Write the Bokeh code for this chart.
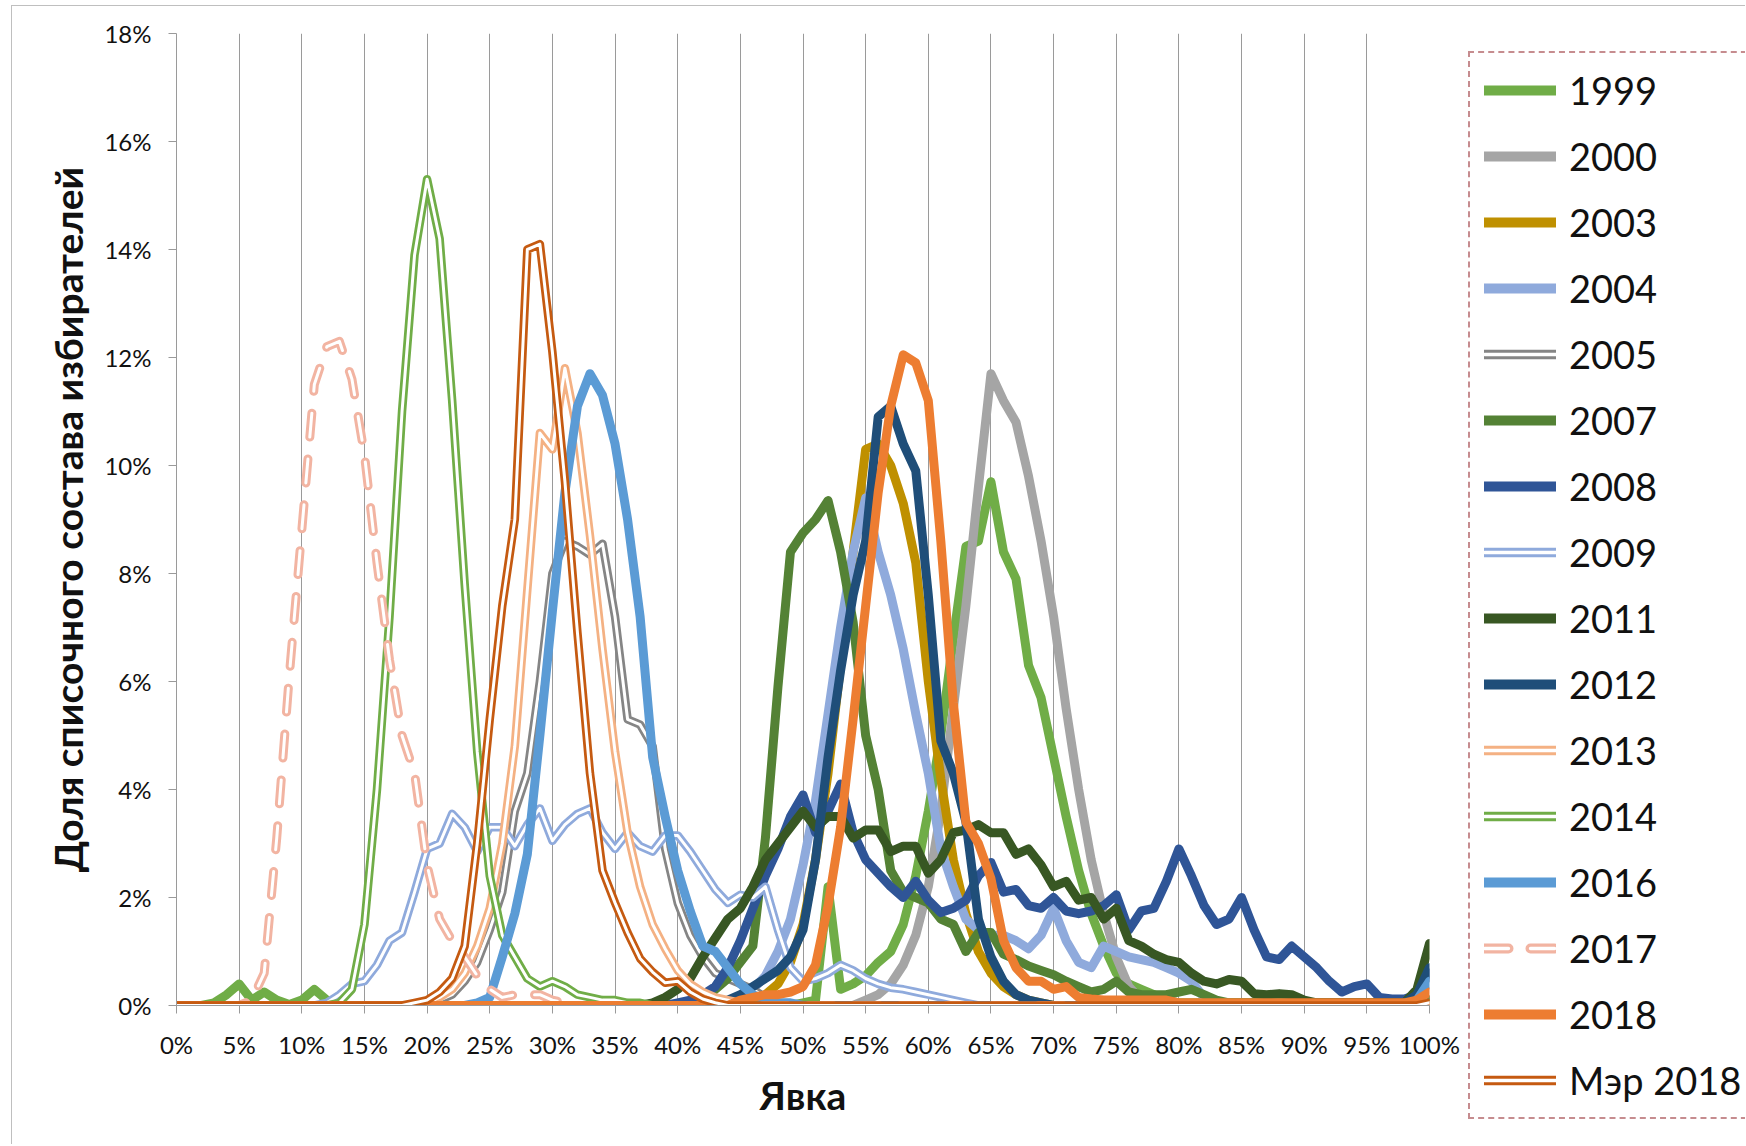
from bokeh.plotting import figure
from bokeh.layouts import row
from bokeh.models import Range1d, FixedTicker, PrintfTickFormatter, Legend, LegendItem
from bokeh.embed import file_html
from bokeh.resources import INLINE

# x: turnout, %  (0..100, step 1)
turnout = list(range(0, 101))
x_ticks = list(range(0, 101, 5))
y_ticks = list(range(0, 19, 2))

y_1999 = [0, 0, 0, 0.05, 0.2, 0.4, 0.1, 0.25, 0.1, 0.02,
          0.1, 0.3, 0.1, 0, 0, 0, 0, 0, 0, 0,
          0, 0, 0, 0, 0, 0, 0, 0, 0, 0,
          0, 0, 0, 0, 0, 0, 0, 0, 0, 0,
          0, 0, 0, 0, 0, 0, 0, 0, 0, 0,
          0.05, 0.1, 2.2, 0.3, 0.4, 0.55, 0.8, 1.0, 1.5, 2.4,
          3.6, 5.0, 6.8, 8.5, 8.6, 9.7, 8.4, 7.9, 6.3, 5.7,
          4.6, 3.5, 2.5, 1.7, 1.1, 0.6, 0.4, 0.3, 0.2, 0.1,
          0.05, 0.05, 0.05, 0.05, 0.05, 0.05, 0.05, 0.05, 0.05, 0.05,
          0.05, 0.05, 0.05, 0.05, 0.05, 0.05, 0.05, 0.05, 0.05, 0.05,
          0.1]
y_2000 = [0, 0, 0, 0, 0, 0, 0, 0, 0, 0,
          0, 0, 0, 0, 0, 0, 0, 0, 0, 0,
          0, 0, 0, 0, 0, 0, 0, 0, 0, 0,
          0, 0, 0, 0, 0, 0, 0, 0, 0, 0,
          0, 0, 0, 0, 0, 0, 0, 0, 0, 0,
          0, 0, 0, 0, 0, 0.1, 0.2, 0.4, 0.75, 1.3,
          2.2, 3.6, 5.5, 7.4, 9.6, 11.7, 11.2, 10.8, 9.8, 8.6,
          7.2, 5.5, 4.0, 2.7, 1.7, 0.9, 0.35, 0.1, 0, 0,
          0, 0, 0, 0, 0, 0, 0, 0, 0, 0,
          0, 0, 0, 0, 0, 0, 0, 0, 0, 0,
          0]
y_2003 = [0, 0, 0, 0, 0, 0, 0, 0, 0, 0,
          0, 0, 0, 0, 0, 0, 0, 0, 0, 0,
          0, 0, 0, 0, 0, 0, 0, 0, 0, 0,
          0, 0, 0, 0, 0, 0, 0, 0, 0, 0,
          0, 0, 0, 0, 0, 0.05, 0.1, 0.2, 0.4, 0.8,
          1.5, 2.7, 4.3, 6.3, 8.4, 10.3, 10.4, 10.0, 9.3, 8.2,
          6.0, 4.2, 2.7, 1.7, 1.0, 0.6, 0.35, 0.2, 0.1, 0.05,
          0, 0, 0, 0, 0, 0, 0, 0, 0, 0,
          0, 0, 0, 0, 0, 0, 0, 0, 0, 0,
          0, 0, 0, 0, 0, 0, 0, 0, 0, 0,
          0.05]
y_2004 = [0, 0, 0, 0, 0, 0, 0, 0, 0, 0,
          0, 0, 0, 0, 0, 0, 0, 0, 0, 0,
          0, 0, 0, 0, 0, 0, 0, 0, 0, 0,
          0, 0, 0, 0, 0, 0, 0, 0, 0, 0,
          0, 0, 0, 0, 0, 0.1, 0.3, 0.55, 1.0, 1.6,
          2.6, 3.8, 5.4, 7.0, 8.4, 9.4, 8.4, 7.6, 6.6, 5.4,
          4.3, 2.9, 2.2, 1.6, 1.4, 1.3, 1.3, 1.2, 1.05, 1.3,
          1.8, 1.2, 0.8, 0.7, 1.1, 1.0, 0.9, 0.85, 0.8, 0.7,
          0.6, 0.45, 0.15, 0.05, 0, 0, 0, 0, 0, 0,
          0, 0, 0, 0, 0, 0, 0, 0, 0, 0,
          0.1]
y_2005 = [0, 0, 0, 0, 0, 0, 0, 0, 0, 0,
          0, 0, 0, 0, 0, 0, 0, 0, 0, 0,
          0.05, 0.1, 0.2, 0.45, 0.8, 1.4, 2.1, 3.6, 4.3, 6.0,
          8.0, 8.6, 8.5, 8.35, 8.55, 7.2, 5.3, 5.2, 4.8, 2.9,
          1.9, 1.3, 0.9, 0.6, 0.5, 0.4, 0.3, 0.15, 0.05, 0,
          0, 0, 0, 0, 0, 0, 0, 0, 0, 0,
          0, 0, 0, 0, 0, 0, 0, 0, 0, 0,
          0, 0, 0, 0, 0, 0, 0, 0, 0, 0,
          0, 0, 0, 0, 0, 0, 0, 0, 0, 0,
          0, 0, 0, 0, 0, 0, 0, 0, 0, 0,
          0.05]
y_2007 = [0, 0, 0, 0, 0, 0, 0, 0, 0, 0,
          0, 0, 0, 0, 0, 0, 0, 0, 0, 0,
          0, 0, 0, 0, 0, 0, 0, 0, 0, 0,
          0, 0, 0, 0, 0, 0, 0, 0, 0, 0,
          0, 0, 0.05, 0.3, 0.5, 0.8, 1.1, 3.1, 5.9, 8.4,
          8.75, 9.0, 9.35, 8.4, 7.1, 5.0, 4.0, 2.5, 2.1, 2.0,
          1.9, 1.6, 1.5, 1.0, 1.35, 1.35, 0.95, 0.85, 0.73, 0.65,
          0.57, 0.45, 0.35, 0.25, 0.3, 0.45, 0.25, 0.2, 0.2, 0.2,
          0.25, 0.3, 0.2, 0.1, 0.05, 0.05, 0.05, 0.05, 0.05, 0.05,
          0.05, 0.05, 0.05, 0.05, 0.05, 0.05, 0.05, 0.05, 0.05, 0.05,
          0.1]
y_2008 = [0, 0, 0, 0, 0, 0, 0, 0, 0, 0,
          0, 0, 0, 0, 0, 0, 0, 0, 0, 0,
          0, 0, 0, 0, 0, 0, 0, 0, 0, 0,
          0, 0, 0, 0, 0, 0, 0, 0, 0, 0,
          0.05, 0.1, 0.2, 0.35, 0.7, 1.2, 1.8, 2.4, 2.9, 3.5,
          3.9, 3.2, 3.6, 4.1, 3.2, 2.7, 2.45, 2.2, 2.0, 2.3,
          1.95, 1.72, 1.8, 1.95, 2.4, 2.65, 2.1, 2.15, 1.85, 1.8,
          2.0, 1.75, 1.7, 1.75, 1.85, 2.05, 1.4, 1.75, 1.8, 2.3,
          2.9, 2.4, 1.85, 1.5, 1.6, 2.0, 1.4, 0.9, 0.85, 1.1,
          0.9, 0.7, 0.45, 0.25, 0.35, 0.4, 0.15, 0.12, 0.12, 0.2,
          0.6]
y_2009 = [0, 0, 0, 0, 0, 0, 0, 0, 0, 0,
          0, 0, 0.05, 0.2, 0.4, 0.45, 0.75, 1.2, 1.35, 2.1,
          2.9, 3.0, 3.55, 3.3, 2.85, 3.3, 3.3, 2.95, 3.35, 3.65,
          3.05, 3.35, 3.55, 3.65, 3.2, 2.9, 3.2, 2.95, 2.85, 3.15,
          3.15, 2.85, 2.5, 2.15, 1.9, 2.05, 2.0, 2.2, 1.4, 0.7,
          0.45, 0.5, 0.6, 0.75, 0.65, 0.5, 0.4, 0.33, 0.3, 0.25,
          0.2, 0.15, 0.1, 0.05, 0, 0, 0, 0, 0, 0,
          0, 0, 0, 0, 0, 0, 0, 0, 0, 0,
          0, 0, 0, 0, 0, 0, 0, 0, 0, 0,
          0, 0, 0, 0, 0, 0, 0, 0, 0, 0,
          0]
y_2011 = [0, 0, 0, 0, 0, 0, 0, 0, 0, 0,
          0, 0, 0, 0, 0, 0, 0, 0, 0, 0,
          0, 0, 0, 0, 0, 0, 0, 0, 0, 0,
          0, 0, 0, 0, 0, 0, 0, 0, 0.05, 0.15,
          0.3, 0.5, 0.9, 1.25, 1.6, 1.8, 2.2, 2.7, 3.0, 3.3,
          3.6, 3.3, 3.5, 3.5, 3.1, 3.25, 3.25, 2.85, 2.95, 2.95,
          2.45, 2.7, 3.2, 3.25, 3.35, 3.2, 3.2, 2.8, 2.9, 2.6,
          2.2, 2.3, 1.95, 2.0, 1.6, 1.8, 1.2, 1.1, 0.95, 0.85,
          0.8, 0.6, 0.45, 0.4, 0.48, 0.45, 0.22, 0.2, 0.22, 0.2,
          0.1, 0.05, 0.05, 0.05, 0.05, 0.05, 0.05, 0.05, 0.05, 0.3,
          1.15]
y_2012 = [0, 0, 0, 0, 0, 0, 0, 0, 0, 0,
          0, 0, 0, 0, 0, 0, 0, 0, 0, 0,
          0, 0, 0, 0, 0, 0, 0, 0, 0, 0,
          0, 0, 0, 0, 0, 0, 0, 0, 0, 0,
          0, 0, 0, 0.05, 0.1, 0.2, 0.35, 0.5, 0.65, 0.9,
          1.4, 2.7, 4.6, 6.2, 7.6, 8.6, 10.9, 11.1, 10.4, 9.9,
          7.6, 4.9, 4.3, 3.4, 1.6, 0.9, 0.45, 0.2, 0.1, 0.05,
          0, 0, 0, 0, 0, 0, 0, 0, 0, 0,
          0, 0, 0, 0, 0, 0, 0, 0, 0, 0,
          0, 0, 0, 0, 0, 0, 0, 0, 0.05, 0.2,
          0.7]
y_2013 = [0, 0, 0, 0, 0, 0, 0, 0, 0, 0,
          0, 0, 0, 0, 0, 0, 0, 0, 0, 0,
          0.05, 0.15, 0.3, 0.6, 1.1, 1.8, 3.0, 4.8, 7.7, 10.6,
          10.3, 11.8, 10.6, 8.7, 6.6, 4.7, 3.2, 2.2, 1.5, 1.05,
          0.65, 0.4, 0.25, 0.15, 0.1, 0.05, 0, 0, 0, 0,
          0, 0, 0, 0, 0, 0, 0, 0, 0, 0,
          0, 0, 0, 0, 0, 0, 0, 0, 0, 0,
          0, 0, 0, 0, 0, 0, 0, 0, 0, 0,
          0, 0, 0, 0, 0, 0, 0, 0, 0, 0,
          0, 0, 0, 0, 0, 0, 0, 0, 0, 0,
          0.05]
y_2014 = [0, 0, 0, 0, 0, 0, 0, 0, 0, 0,
          0, 0, 0, 0.05, 0.3, 1.5, 4.0, 7.2, 11.0, 13.9,
          15.3, 14.2, 11.2, 7.8, 4.7, 2.4, 1.3, 0.9, 0.5, 0.35,
          0.45, 0.35, 0.2, 0.15, 0.1, 0.1, 0.05, 0.05, 0, 0,
          0, 0, 0, 0, 0, 0, 0, 0, 0, 0,
          0, 0, 0, 0, 0, 0, 0, 0, 0, 0,
          0, 0, 0, 0, 0, 0, 0, 0, 0, 0,
          0, 0, 0, 0, 0, 0, 0, 0, 0, 0,
          0, 0, 0, 0, 0, 0, 0, 0, 0, 0,
          0, 0, 0, 0, 0, 0, 0, 0, 0, 0,
          0.05]
y_2016 = [0, 0, 0, 0, 0, 0, 0, 0, 0, 0,
          0, 0, 0, 0, 0, 0, 0, 0, 0, 0,
          0, 0, 0, 0, 0.05, 0.15, 0.9, 1.7, 2.8, 5.0,
          7.3, 9.5, 11.1, 11.7, 11.3, 10.4, 9.0, 7.2, 4.6, 3.5,
          2.5, 1.75, 1.1, 1.0, 0.7, 0.4, 0.2, 0.1, 0.05, 0.05,
          0, 0, 0, 0, 0, 0, 0, 0, 0, 0,
          0, 0, 0, 0, 0, 0, 0, 0, 0, 0,
          0, 0, 0, 0, 0, 0, 0, 0, 0, 0,
          0, 0, 0, 0, 0, 0, 0, 0, 0, 0,
          0, 0, 0, 0, 0, 0, 0, 0, 0, 0.1,
          0.45]
y_2017 = [0, 0, 0, 0, 0, 0, 0.1, 0.6, 3.1, 6.1,
          8.8, 11.5, 12.2, 12.3, 11.6, 10.2, 8.2, 6.4, 5.0, 4.3,
          2.6, 1.6, 1.2, 0.9, 0.55, 0.3, 0.15, 0.2, 0.2, 0.2,
          0.1, 0.05, 0, 0, 0, 0, 0, 0, 0, 0,
          0, 0, 0, 0, 0, 0, 0, 0, 0, 0,
          0, 0, 0, 0, 0, 0, 0, 0, 0, 0,
          0, 0, 0, 0, 0, 0, 0, 0, 0, 0,
          0, 0, 0, 0, 0, 0, 0, 0, 0, 0,
          0, 0, 0, 0, 0, 0, 0, 0, 0, 0,
          0, 0, 0, 0, 0, 0, 0, 0, 0, 0,
          0]
y_2018 = [0, 0, 0, 0, 0, 0, 0, 0, 0, 0,
          0, 0, 0, 0, 0, 0, 0, 0, 0, 0,
          0, 0, 0, 0, 0, 0, 0, 0, 0, 0,
          0, 0, 0, 0, 0, 0, 0, 0, 0, 0,
          0, 0, 0, 0, 0, 0.1, 0.15, 0.2, 0.2, 0.25,
          0.35, 0.75, 1.85, 3.3, 5.3, 7.4, 9.5, 11.1, 12.05, 11.9,
          11.2, 8.6, 5.6, 3.4, 3.0, 2.35, 1.2, 0.7, 0.45, 0.45,
          0.3, 0.35, 0.15, 0.12, 0.1, 0.1, 0.1, 0.1, 0.1, 0.1,
          0.05, 0.05, 0.05, 0.05, 0.05, 0.05, 0.05, 0.05, 0.05, 0.05,
          0.05, 0.05, 0.05, 0.05, 0.05, 0.05, 0.05, 0.05, 0.05, 0.1,
          0.25]
y_mayor2018 = [0, 0, 0, 0, 0, 0, 0, 0, 0, 0,
               0, 0, 0, 0, 0, 0, 0, 0, 0, 0.05,
               0.1, 0.25, 0.5, 1.1, 3.0, 5.3, 7.4, 9.0, 14.0, 14.1,
               12.1, 9.7, 6.9, 4.3, 2.5, 1.9, 1.35, 0.87, 0.62, 0.42,
               0.45, 0.25, 0.12, 0.05, 0, 0, 0, 0, 0, 0,
               0, 0, 0, 0, 0, 0, 0, 0, 0, 0,
               0, 0, 0, 0, 0, 0, 0, 0, 0, 0,
               0, 0, 0, 0, 0, 0, 0, 0, 0, 0,
               0, 0, 0, 0, 0, 0, 0, 0, 0, 0,
               0, 0, 0, 0, 0, 0, 0, 0, 0, 0,
               0.05]

labels = ["1999", "2000", "2003", "2004", "2005", "2007", "2008", "2009",
          "2011", "2012", "2013", "2014", "2016", "2017", "2018", "Мэр 2018"]
values = [y_1999, y_2000, y_2003, y_2004, y_2005, y_2007, y_2008, y_2009,
          y_2011, y_2012, y_2013, y_2014, y_2016, y_2017, y_2018, y_mayor2018]
colors = ["#70AD47", "#A5A5A5", "#BF9000", "#8FAADC", "#858585", "#548235",
          "#2F5597", "#8FAADC", "#385723", "#1F4E79", "#F4B183", "#70AD47",
          "#5B9BD5", "#F2B4A2", "#ED7D31", "#C55A11"]
styles = ["solid", "solid", "solid", "solid", "double", "solid", "solid", "double",
          "solid", "solid", "double", "double", "solid", "dashdouble", "solid", "double"]

FONT = "Lato"
DASH = "24 22"


def draw(fig, xs, ys, col, st, w):
    """Draw one series on fig with base width w; returns the renderers of its look."""
    kw = dict(line_cap="round", line_join="round")
    if st == "solid":
        return [fig.line(xs, ys, line_color=col, line_width=w, **kw)]
    if st == "double":
        return [fig.line(xs, ys, line_color=col, line_width=w - 0.5, **kw),
                fig.line(xs, ys, line_color="white", line_width=w / 3, **kw)]
    return [fig.line(xs, ys, line_color=col, line_width=w, line_dash=DASH, **kw),
            fig.line(xs, ys, line_color="white", line_width=w / 3, line_dash=DASH, **kw)]


# ---- main chart
p = figure(width=1449, height=1138, output_backend="svg", toolbar_location=None,
           x_range=Range1d(0, 100), y_range=Range1d(0, 18),
           min_border_left=164, min_border_right=32, min_border_top=27,
           min_border_bottom=139, background_fill_color="white",
           border_fill_color="white", outline_line_color=None)
p.frame_align = False

for ys, col, st in zip(values, colors, styles):
    draw(p, turnout, ys, col, st, 9)

p.xaxis.ticker = FixedTicker(ticks=x_ticks)
p.yaxis.ticker = FixedTicker(ticks=y_ticks)
p.xaxis.formatter = PrintfTickFormatter(format="%d%%")
p.yaxis.formatter = PrintfTickFormatter(format="%d%%")
for ax in (p.xaxis, p.yaxis):
    ax.axis_line_color = "#9A9A9A"
    ax.axis_line_width = 1
    ax.major_tick_line_color = "#9A9A9A"
    ax.major_tick_in = 0
    ax.major_tick_out = 8
    ax.minor_tick_line_color = None
    ax.major_label_text_font = FONT
    ax.major_label_text_font_size = "24px"
    ax.major_label_text_color = "#111111"
    ax.axis_label_text_font = FONT
    ax.axis_label_text_font_style = "bold"
    ax.axis_label_text_font_size = "39px"
    ax.axis_label_text_color = "#111111"
p.yaxis.major_label_standoff = 17
p.xaxis.major_label_standoff = 16
p.xaxis.axis_label = "Явка"
p.yaxis.axis_label = "Доля списочного состава избирателей"
p.xaxis.axis_label_standoff = 10
p.yaxis.axis_label_standoff = 10

p.xgrid.ticker = FixedTicker(ticks=x_ticks)
p.xgrid.grid_line_color = "#9A9A9A"
p.xgrid.grid_line_width = 1
p.ygrid.grid_line_color = None

# ---- legend panel: same series and styles, drawn outside its visible range
q = figure(width=284, height=1138, output_backend="svg", toolbar_location=None,
           x_range=Range1d(200, 300), y_range=Range1d(0, 18),
           x_axis_location=None, y_axis_location=None,
           min_border_left=0, min_border_right=0, min_border_top=0, min_border_bottom=0,
           background_fill_color="white", border_fill_color="white", outline_line_color=None)
q.frame_align = False
q.xgrid.grid_line_color = None
q.ygrid.grid_line_color = None

items = []
for lab, ys, col, st in zip(labels, values, colors, styles):
    items.append(LegendItem(label=lab, renderers=draw(q, turnout, ys, col, st, 10)))

legend = Legend(items=items, location=(7, 25), orientation="vertical",
                glyph_width=72, glyph_height=46, label_height=46, label_width=166,
                spacing=20, padding=14, label_standoff=13, margin=0,
                label_text_font=FONT, label_text_font_size="38px", label_text_color="#111111",
                border_line_color="#8E1B22", border_line_dash="4 2", border_line_width=2.5,
                background_fill_color="white", background_fill_alpha=1.0)
q.add_layout(legend)

layout = row(p, q)
layout.styles = {"margin-left": "11px", "margin-top": "5px",
                 "border-left": "1px solid #BFBFBF", "border-top": "1px solid #BFBFBF"}

open("out.html", "w").write(file_html(layout, INLINE))
